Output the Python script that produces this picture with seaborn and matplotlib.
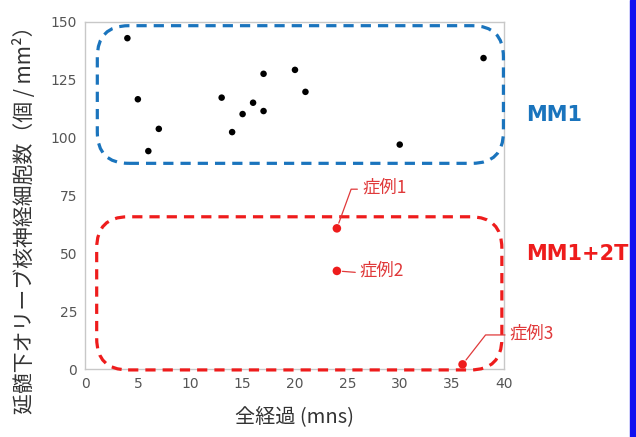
import numpy as np
import pandas as pd
import matplotlib.pyplot as plt
import seaborn as sns
from matplotlib.patches import FancyBboxPatch, Rectangle

# MM1 cases (black) and MM1+2T cases (red)
mm1_x = [4, 5, 6, 7, 13, 14, 15, 16, 17, 17, 20, 21, 30, 38]
mm1_y = [143, 116.6, 94.2, 103.8, 117.3, 102.4, 110.2, 115.1, 127.6, 111.5, 129.3, 119.8, 97.0, 134.4]
mm12t_x = [24, 24, 36]
mm12t_y = [60.8, 42.4, 2.0]
case_labels = ["症例1", "症例2", "症例3"]

df = pd.DataFrame({
    "x": mm1_x + mm12t_x,
    "y": mm1_y + mm12t_y,
    "group": ["MM1"] * len(mm1_x) + ["MM1+2T"] * len(mm12t_x),
})

sns.set_style("white")
plt.rcParams["font.family"] = ["Noto Sans CJK JP", "DejaVu Sans"]

BLUE = "#1a74bd"
RED = "#ee1c1c"
LRED = "#e0393a"

fig = plt.figure(figsize=(6.36, 4.37), dpi=100)
ax = fig.add_axes([0.1344, 0.1556, 0.6588, 0.7941])

sns.scatterplot(data=df[df.group == "MM1"], x="x", y="y", color="black",
                s=22, edgecolor="none", ax=ax, zorder=5)
sns.scatterplot(data=df[df.group == "MM1+2T"], x="x", y="y", color=RED,
                s=38, edgecolor="none", ax=ax, zorder=5)

ax.set_xlim(0, 40)
ax.set_ylim(0, 150)
ax.set_xticks(np.arange(0, 41, 5))
ax.set_yticks(np.arange(0, 151, 25))
for s in ax.spines.values():
    s.set_color("#c8c8c8")
    s.set_linewidth(1)
ax.tick_params(axis="both", length=4, width=0.8, color="#c8c8c8",
               labelsize=10, labelcolor="#555555", pad=2)
for lab in ax.get_xticklabels() + ax.get_yticklabels():
    lab.set_family("DejaVu Sans")

ax.set_xlabel("全経過 (mns)", fontsize=14.5, color="#333333", labelpad=11)
ax.set_ylabel("延髄下オリーブ核神経細胞数（個 / mm²）", fontsize=15, color="#333333")
ax.yaxis.set_label_coords(-0.118, 0.445)

# dashed rounded boxes around the two groups
asp = (0.6588 * 636 / 40) / (0.7941 * 437 / 150)
for (x0, y0, x1, y1), col in [((1.13, 88.9, 39.9, 148.4), BLUE),
                              ((1.07, -0.4, 39.75, 65.8), RED)]:
    box = FancyBboxPatch((x0, y0), x1 - x0, y1 - y0,
                         boxstyle="round,pad=0,rounding_size=3.0",
                         mutation_aspect=asp, fill=False, edgecolor=col,
                         linewidth=2.3, linestyle=(0, (3.2, 2.2)),
                         clip_on=False, zorder=4)
    ax.add_patch(box)

ax.text(42.1, 109.8, "MM1", color=BLUE, fontsize=15, fontweight="bold",
        family="DejaVu Sans", va="center", ha="left", clip_on=False)
ax.text(42.1, 49.5, "MM1+2T", color=RED, fontsize=15, fontweight="bold",
        family="DejaVu Sans", va="center", ha="left", clip_on=False)

# case annotations
text_pos = [(26.4, 78.5), (26.2, 42.4), (40.5, 15.5)]
conn = ["angle,angleA=0,angleB=70,rad=0", "arc3,rad=0", "angle,angleA=0,angleB=52,rad=0"]
for (px, py), (tx, ty), lab, cs in zip(zip(mm12t_x, mm12t_y), text_pos, case_labels, conn):
    ax.annotate(lab, xy=(px, py), xytext=(tx, ty), color=LRED, fontsize=12.5,
                va="center", ha="left", annotation_clip=False, zorder=6,
                arrowprops=dict(arrowstyle="-", color=LRED, lw=0.9,
                                connectionstyle=cs, shrinkA=1, shrinkB=4,
                                relpos=(0, 0.4)))

# blue strip on the right edge
fig.patches.append(Rectangle((630 / 636, 0), 6 / 636, 1, transform=fig.transFigure,
                             color="#1010f0", zorder=0))

fig.savefig("out.png", dpi=100)
